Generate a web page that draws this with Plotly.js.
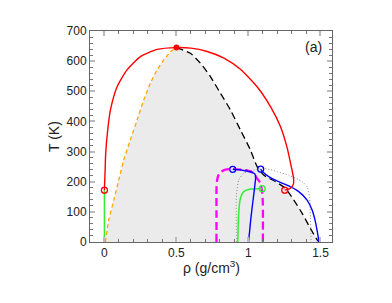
<!DOCTYPE html>
<html><head><meta charset="utf-8">
<script src="https://cdn.plot.ly/plotly-3.0.1.min.js"></script>
<style>html,body{margin:0;padding:0;background:#fff}</style>
</head><body><div id="g" style="width:392px;height:303px"></div>
<script>
// coexistence curve, vapour branch (orange dashed)
var orangeRho = [0.007,0.03,0.065,0.1,0.134,0.18,0.227,0.273,0.319,0.366,0.412,0.458,0.5];
var orangeT   = [0,73,139,206,272,338,405,471,527,571,604,631,645];
// coexistence curve, liquid branch (black dashed)
var blackRho = [0.5,0.597,0.667,0.736,0.806,0.875,0.944,1.014,1.06,1.106,1.188,1.257,1.315,1.373,1.43,1.477,1.49];
var blackT   = [645,626,593,549,493,438,372,305,250,222,200,178,139,95,45,7,0];
// red solid curve
var redRho = [0,0.002,0.005,0.009,0.023,0.042,0.088,0.157,0.25,0.366,0.5,0.6,0.713,0.83,0.944,1.06,1.153,1.222,1.27,1.295,1.312,1.312,1.29,1.252];
var redT   = [172,200,239,294,372,438,515,571,615,639,645,643,632,610,573,515,449,383,310,255,215,192,178,172];
// green vertical at rho = 0
var greenVRho = [0,0];
var greenVT   = [0,172];
// green curve
var greenRho = [0.926,0.928,0.933,0.944,0.967,1.014,1.095];
var greenT   = [0,45,100,145,167,176,177];
// magenta dashed arch
var magRho = [0.778,0.778,0.778,0.781,0.79,0.81,0.84,0.891,0.95,1.0,1.037,1.06,1.083,1.095,1.1,1.1];
var magT   = [0,100,175,200,220,233,240,242,240,236,228,211,195,167,123,0];
// blue curve from left circle
var blueARho = [0.891,0.93,0.967,1.0,1.025,1.045,1.05,1.045,1.035,1.025,1.015,1.008,1.0];
var blueAT   = [241,240,237,234,231,225,215,190,150,112,70,35,0];
// blue curve from right circle
var blueBRho = [1.085,1.1,1.141,1.21,1.28,1.349,1.407,1.442,1.465,1.48,1.49];
var blueBT   = [242,232,217,200,186,167,139,106,67,29,0];
// grey dotted curve
var dotRho = [0.917,0.917,0.933,0.967,1.037,1.118,1.2,1.28,1.373,1.407,1.424,1.43,1.435];
var dotT   = [0,156,206,228,239,244,233,222,200,183,150,84,0];
// special points
var critRho = [0.5], critT = [645];
var redOpenRho = [0,1.252], redOpenT = [172,172];
var blueOpenRho = [0.891,1.085], blueOpenT = [241,242];
var greenOpenRho = [1.095], greenOpenT = [177];

var sm = 0.6;
var traces = [
  {x: orangeRho.concat(blackRho), y: orangeT.concat(blackT), mode:'lines', fill:'toself',
   fillcolor:'#ebebeb', line:{width:0, color:'rgba(0,0,0,0)'}, hoverinfo:'skip'},
  {x: orangeRho, y: orangeT, mode:'lines', line:{color:'#ffa500', width:1.3, dash:'4px,3px', shape:'spline', smoothing:sm}},
  {x: blackRho, y: blackT, mode:'lines', line:{color:'#000', width:1.3, dash:'7px,4px', shape:'spline', smoothing:sm}},
  {x: dotRho, y: dotT, mode:'lines', line:{color:'#888', width:1, dash:'1px,2px', shape:'spline', smoothing:sm}},
  {x: magRho, y: magT, mode:'lines', line:{color:'#ff00ff', width:2.3, dash:'8px,4px', shape:'spline', smoothing:sm}},
  {x: greenVRho, y: greenVT, mode:'lines', line:{color:'#33ee33', width:1.5}},
  {x: greenRho, y: greenT, mode:'lines', line:{color:'#33ee33', width:1.5, shape:'spline', smoothing:sm}},
  {x: blueARho, y: blueAT, mode:'lines', line:{color:'#0000ff', width:1.4, shape:'spline', smoothing:sm}},
  {x: blueBRho, y: blueBT, mode:'lines', line:{color:'#0000ff', width:1.4, shape:'spline', smoothing:sm}},
  {x: redRho, y: redT, mode:'lines', line:{color:'#ff0000', width:1.4, shape:'spline', smoothing:sm}},
  {x: redOpenRho, y: redOpenT, mode:'markers', marker:{symbol:'circle-open', size:6, color:'#ff0000', line:{width:1.3}}},
  {x: blueOpenRho, y: blueOpenT, mode:'markers', marker:{symbol:'circle-open', size:6, color:'#0000ff', line:{width:1.3}}},
  {x: greenOpenRho, y: greenOpenT, mode:'markers', marker:{symbol:'circle-open', size:6, color:'#33ee33', line:{width:1.3}}},
  {x: critRho, y: critT, mode:'markers', marker:{symbol:'circle', size:6, color:'#ff0000'}}
];

var fam = 'Liberation Sans, Arial, sans-serif';
var axisCommon = {
  showgrid:false, zeroline:false, showline:true, mirror:'ticks', linecolor:'#666', linewidth:1,
  ticks:'inside', ticklen:5, tickwidth:2, tickcolor:'#bbb',
  tickfont:{family:fam, size:12, color:'#222'}
};
var xa = Object.assign({}, axisCommon, {
  range:[-0.1,1.58], tickvals:[0,0.5,1,1.5], ticktext:['0','0.5','1','1.5'],
  minor:{dtick:0.1, tick0:0, ticks:'inside', ticklen:3, tickwidth:1, tickcolor:'#777'}
});
var ya = Object.assign({}, axisCommon, {
  range:[0,700], dtick:100, tick0:0,
  minor:{dtick:20, tick0:0, ticks:'inside', ticklen:3, tickwidth:1, tickcolor:'#777'}
});

var layout = {
  width:392, height:303, showlegend:false,
  margin:{l:90, r:60, t:31, b:61},
  paper_bgcolor:'#fff', plot_bgcolor:'#fff',
  xaxis:xa, yaxis:ya,
  annotations:[
    {text:'(a)', xref:'paper', yref:'paper', x:0.965, y:0.97, xanchor:'right', yanchor:'top', showarrow:false,
     font:{family:fam, size:14, color:'#222'}},
    {text:'T (K)', xref:'paper', yref:'paper', x:-0.149, y:0.502, textangle:-90, xanchor:'center', yanchor:'middle', showarrow:false,
     font:{family:fam, size:14, color:'#222'}},
    {text:'ρ (g/cm<sup>3</sup>)', xref:'paper', yref:'paper', x:0.5, y:-0.12, xanchor:'center', yanchor:'middle', showarrow:false,
     font:{family:fam, size:14, color:'#222'}}
  ]
};
Plotly.newPlot('g', traces, layout, {staticPlot:true, displayModeBar:false});
</script></body></html>
